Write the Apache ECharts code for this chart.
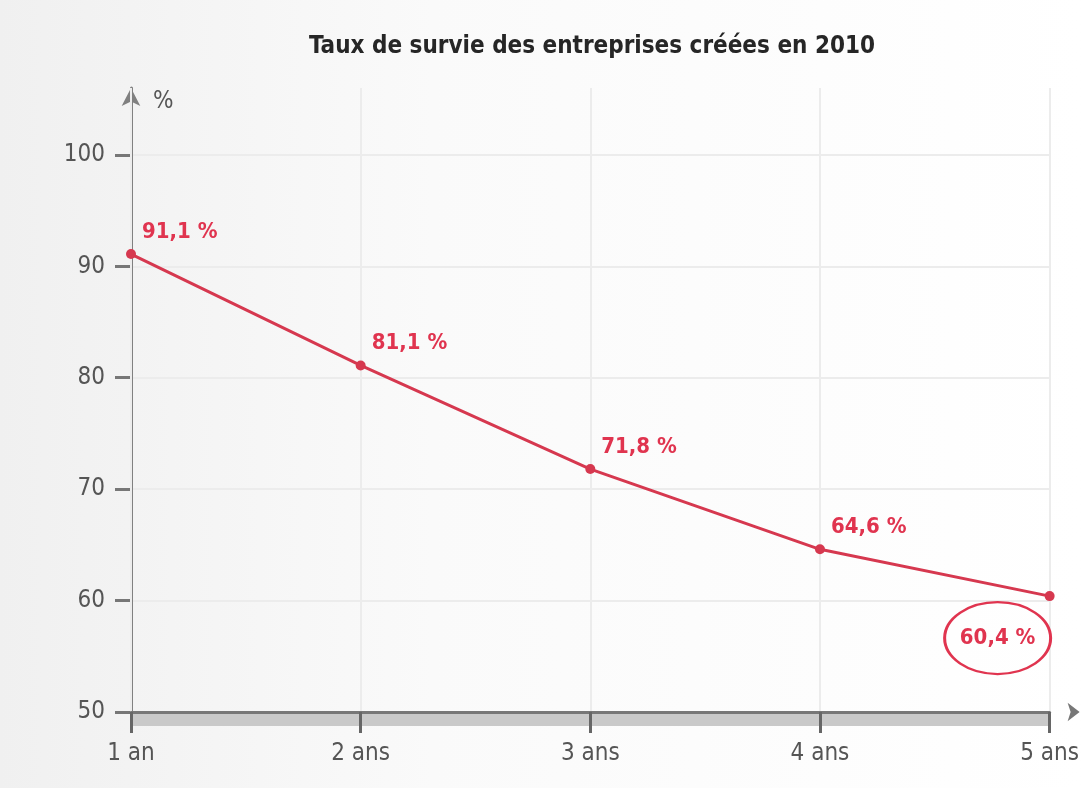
<!DOCTYPE html>
<html>
<head>
<meta charset="utf-8">
<script src="https://cdn.jsdelivr.net/npm/echarts@6/dist/echarts.min.js"></script>
<style>
  html, body { margin: 0; padding: 0; }
  #chart { width: 1082px; height: 788px; }
</style>
</head>
<body>
<div id="chart"></div>
<script>
const titleText = 'Taux de survie des entreprises créées en 2010'
const categories = ['1 an', '2 ans', '3 ans', '4 ans', '5 ans']
const survival = [91.1, 81.1, 71.8, 64.6, 60.4]
const yTicks = [50, 60, 70, 80, 90, 100]

const red = '#e0344f'
const lineRed = '#d6384f'
const axisGrey = '#777777'
const font = "'Liberation Sans Narrow', 'DejaVu Sans Condensed', sans-serif"

const fmt = (v) => v.toFixed(1).replace('.', ',') + ' %'

const lastIdx = survival.length - 1
const seriesData = survival.map((v, i) => i === lastIdx ? { value: v, label: { show: false } } : v)

const chart = echarts.init(document.getElementById('chart'), null, { renderer: 'canvas' })

const option = {
  animation: false,
  backgroundColor: {
    type: 'linear', x: 0, y: 0, x2: 1, y2: 0,
    colorStops: [
      { offset: 0, color: '#f0f0f0' },
      { offset: 0.4, color: '#fafafa' },
      { offset: 1, color: '#ffffff' }
    ]
  },
  title: {
    text: titleText,
    left: 587,
    textAlign: 'center',
    top: 30,
    textStyle: {
      fontFamily: font,
      fontSize: 24,
      fontWeight: 'bold',
      color: '#262626'
    }
  },
  grid: {
    left: 131,
    right: 29,
    top: 88,
    bottom: 76,
    containLabel: false
  },
  xAxis: [
    {
      type: 'category',
      data: categories,
      boundaryGap: false,
      z: 3,
      axisLine: {
        lineStyle: { color: axisGrey, width: 3 },
        symbol: ['none', 'arrow'],
        symbolSize: [14, 12],
        symbolOffset: [0, 30]
      },
      axisTick: {
        show: true,
        length: 21,
        lineStyle: { color: '#666', width: 3 }
      },
      axisLabel: {
        margin: 30,
        fontFamily: font,
        fontSize: 24,
        color: '#555'
      },
      splitLine: {
        show: true,
        lineStyle: { color: '#ececec', width: 2 }
      }
    },
    {
      type: 'category',
      data: categories,
      boundaryGap: false,
      position: 'bottom',
      offset: 7,
      z: 1,
      axisLine: { lineStyle: { color: '#c9c9c9', width: 13, cap: 'butt' } },
      axisTick: { show: false },
      axisLabel: { show: false },
      splitLine: { show: false }
    }
  ],
  yAxis: {
    type: 'value',
    min: 50,
    max: 106,
    name: '%',
    nameLocation: 'end',
    nameGap: -14,
    nameTextStyle: {
      fontFamily: font,
      fontSize: 24,
      color: '#555',
      align: 'left',
      verticalAlign: 'middle',
      padding: [0, 0, 0, 22]
    },
    axisLine: {
      show: true,
      lineStyle: { color: '#808080', width: 3 },
      symbol: ['none', 'arrow'],
      symbolSize: [14, 18]
    },
    axisTick: {
      show: true,
      length: 16,
      customValues: yTicks,
      lineStyle: { color: '#777', width: 3 }
    },
    axisLabel: {
      customValues: yTicks,
      margin: 26,
      fontFamily: font,
      fontSize: 24,
      color: '#555'
    },
    splitLine: {
      show: true,
      lineStyle: { color: '#ececec', width: 2 }
    }
  },
  series: [
    {
      type: 'line',
      data: seriesData,
      xAxisIndex: 0,
      symbol: 'circle',
      symbolSize: 10,
      z: 5,
      lineStyle: { color: lineRed, width: 3 },
      itemStyle: { color: lineRed },
      label: {
        show: true,
        position: 'right',
        distance: 6,
        offset: [0, -22],
        formatter: (p) => fmt(p.value),
        fontFamily: font,
        fontSize: 22,
        fontWeight: 'bold',
        color: red
      },
      markPoint: {
        silent: true,
        data: [
          {
            coord: [categories[lastIdx], survival[lastIdx]],
            symbol: 'path://M0,36 A53,36 0 1,1 106,36 A53,36 0 1,1 0,36 Z',
            symbolSize: [106, 72],
            symbolOffset: [-52, 42],
            symbolKeepAspect: false,
            itemStyle: { color: 'rgba(0,0,0,0)', borderColor: red, borderWidth: 2.5 },
            label: {
              show: true,
              position: 'inside',
              formatter: fmt(survival[lastIdx]),
              fontFamily: font,
              fontSize: 22,
              fontWeight: 'bold',
              color: red
            }
          }
        ]
      }
    }
  ]
}

chart.setOption(option)
</script>
</body>
</html>
